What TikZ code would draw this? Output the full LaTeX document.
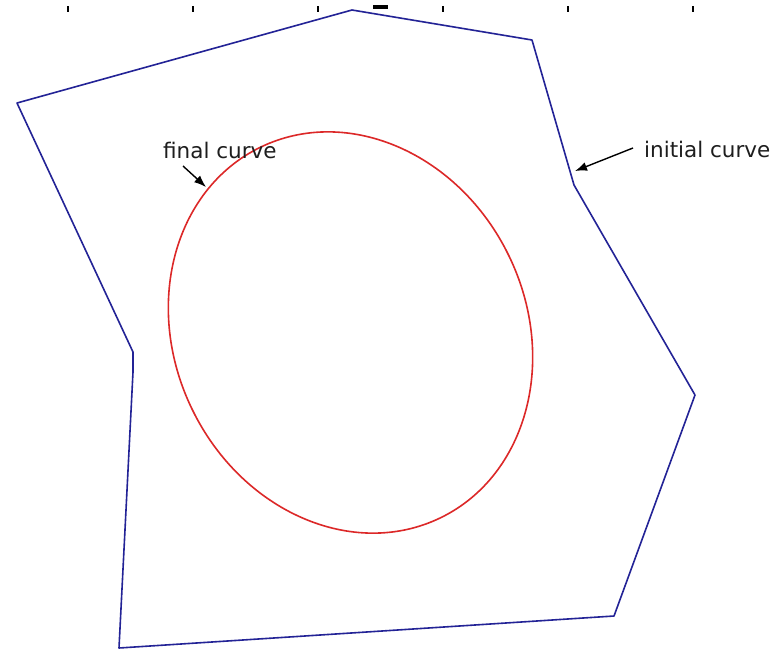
\documentclass[tikz,border=0pt]{standalone}
\usepackage{fontspec}
\setmainfont{DejaVu Sans}
\usetikzlibrary{arrows.meta}
\definecolor{polyblue}{RGB}{35,35,150}
\definecolor{curvered}{RGB}{220,40,40}
\definecolor{labelgray}{RGB}{30,30,30}
\tikzset{
  initpoly/.style={draw=polyblue, line width=1.6pt, line join=round},
  finalcurve/.style={draw=curvered, line width=1.6pt},
  lbl/.style={text=labelgray, font=\fontsize{21.5}{25}\selectfont, inner sep=0pt, anchor=base west},
  pointer/.style={draw=black, line width=1.4pt, -{Latex[length=12pt,width=9pt]}},
  tickmark/.style={draw=black, line width=1.6pt}
}
\begin{document}
\begin{tikzpicture}[x=1pt,y=-1pt]
\useasboundingbox (0,0) rectangle (774,649);
\fill[white] (0,0) rectangle (774,649);
% top ticks
\foreach \tx in {68,193,318,443,568,693} {
  \draw[tickmark] (\tx,6) -- (\tx,12);
}
\fill[black] (373,5) rectangle (388,9);
% initial curve (polygon)
\draw[initpoly] (352,10) -- (532,40) -- (574,185) -- (695,395) -- (614,616)
  -- (119,648) -- (133,372) -- (133,352) -- (17,103) -- cycle;
% final curve (ellipse)
\draw[finalcurve, rotate around={26:(350.5,332.5)}] (350.5,332.5) ellipse [x radius=176, y radius=206];
% labels
\node[lbl] (flabel) at (163,158) {final curve};
\node[lbl] (ilabel) at (644,157) {initial curve};
\coordinate (ftip) at (206,187);
\coordinate (itip) at (575,171);
\coordinate (fstart) at (183,166);
\coordinate (istart) at (633,148);
\draw[pointer] (fstart) -- (ftip);
\draw[pointer] (istart) -- (itip);
\end{tikzpicture}
\end{document}
